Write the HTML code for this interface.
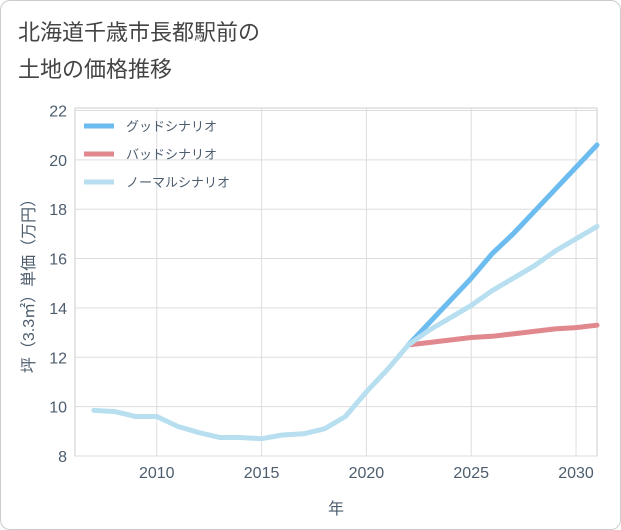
<!DOCTYPE html>
<html><head><meta charset="utf-8"><style>
body{margin:0;width:621px;height:530px;background:#fff;font-family:"Liberation Sans","Noto Sans CJK JP",sans-serif;overflow:hidden}
.card{position:absolute;left:0;top:0;width:619px;height:528px;border:1px solid #ccc;border-radius:10px;background:#fff}
.title{position:absolute;left:18px;top:14px;font-size:22px;line-height:37px;color:#444;font-family:"Liberation Sans","Noto Sans CJK JP",sans-serif}
</style></head><body>
<div class="card"></div>
<div class="title">北海道千歳市長都駅前の<br>土地の価格推移</div>
<svg id="chart" width="621" height="530" style="position:absolute;left:0;top:0"></svg>
<script>
const years=[2007,2008,2009,2010,2011,2012,2013,2014,2015,2016,2017,2018,2019,2020,2021,2022,2023,2024,2025,2026,2027,2028,2029,2030,2031];
const normalVals=[9.85,9.8,9.6,9.6,9.2,8.95,8.75,8.75,8.7,8.85,8.9,9.1,9.6,10.6,11.5,12.5,13.1,13.6,14.1,14.7,15.2,15.7,16.3,16.8,17.3];
const futureYears=[2022,2023,2024,2025,2026,2027,2028,2029,2030,2031];
const goodVals=[12.5,13.4,14.3,15.2,16.2,17.0,17.9,18.8,19.7,20.6];
const badVals=[12.5,12.6,12.7,12.8,12.85,12.95,13.05,13.15,13.2,13.3];
const xTicks=[2010,2015,2020,2025,2030];
const yTicks=[8,10,12,14,16,18,20,22];
const legendLabels=["グッドシナリオ","バッドシナリオ","ノーマルシナリオ"];
const L=75,R=597,T=108,B=456,x0=2006.1,x1=2031,y0=8,y1=22.1;
const X=v=>L+(v-x0)/(x1-x0)*(R-L);
const Y=v=>B-(v-y0)/(y1-y0)*(B-T);
const svg=document.getElementById('chart');
const NS='http://www.w3.org/2000/svg';
const txt='#4d5d6d';
function mk(t,a){const e=document.createElementNS(NS,t);for(const k in a)e.setAttribute(k,a[k]);svg.appendChild(e);return e;}
let bg=mk('rect',{x:L,y:T,width:R-L,height:B-T,fill:'#fff',stroke:'#ccc'});


xTicks.forEach(v=>{
 const g=mk('line',{x1:X(v),x2:X(v),y1:T,y2:B,stroke:'#ddd'});
 
 
 const t=mk('text',{x:X(v),y:B+22,'text-anchor':'middle','font-size':16,fill:txt});t.textContent=v;
 
 
});
yTicks.forEach(v=>{
 const g=mk('line',{x1:L,x2:R,y1:Y(v),y2:Y(v),stroke:'#ddd'});
 
 
 const t=mk('text',{x:L-8,y:Y(v)+6,'text-anchor':'end','font-size':16,fill:txt});t.textContent=v;
 
 
});
function line(xs,vs,color,name){
 const p=mk('polyline',{points:xs.map((x,i)=>X(x)+','+Y(vs[i])).join(' '),fill:'none',stroke:color,'stroke-width':5,'stroke-linejoin':'round','stroke-linecap':'round'});
 
 
}
const cG='#6cbcf0',cB='#e0888e',cN='#b8dff0';
line(futureYears,goodVals,cG,'good-scenario-line');
line(futureYears,badVals,cB,'bad-scenario-line');
line(years,normalVals,cN,'normal-scenario-line');
[cG,cB,cN].forEach((c,i)=>{
 const y=126+i*28;
 const l=mk('line',{x1:84,x2:114,y1:y,y2:y,stroke:c,'stroke-width':5});
 
 
 const t=mk('text',{x:126,y:y+5,'font-size':13,fill:txt});t.textContent=legendLabels[i];
 
 
});
const xt=mk('text',{x:(L+R)/2,y:514,'text-anchor':'middle','font-size':16,fill:txt});xt.textContent='年';


const yt=mk('text',{x:0,y:0,'text-anchor':'middle','font-size':16,fill:txt,transform:'translate(34,'+((T+B)/2)+') rotate(-90)'});yt.textContent='坪（3.3㎡）単価（万円）';


</script>
</body></html>
